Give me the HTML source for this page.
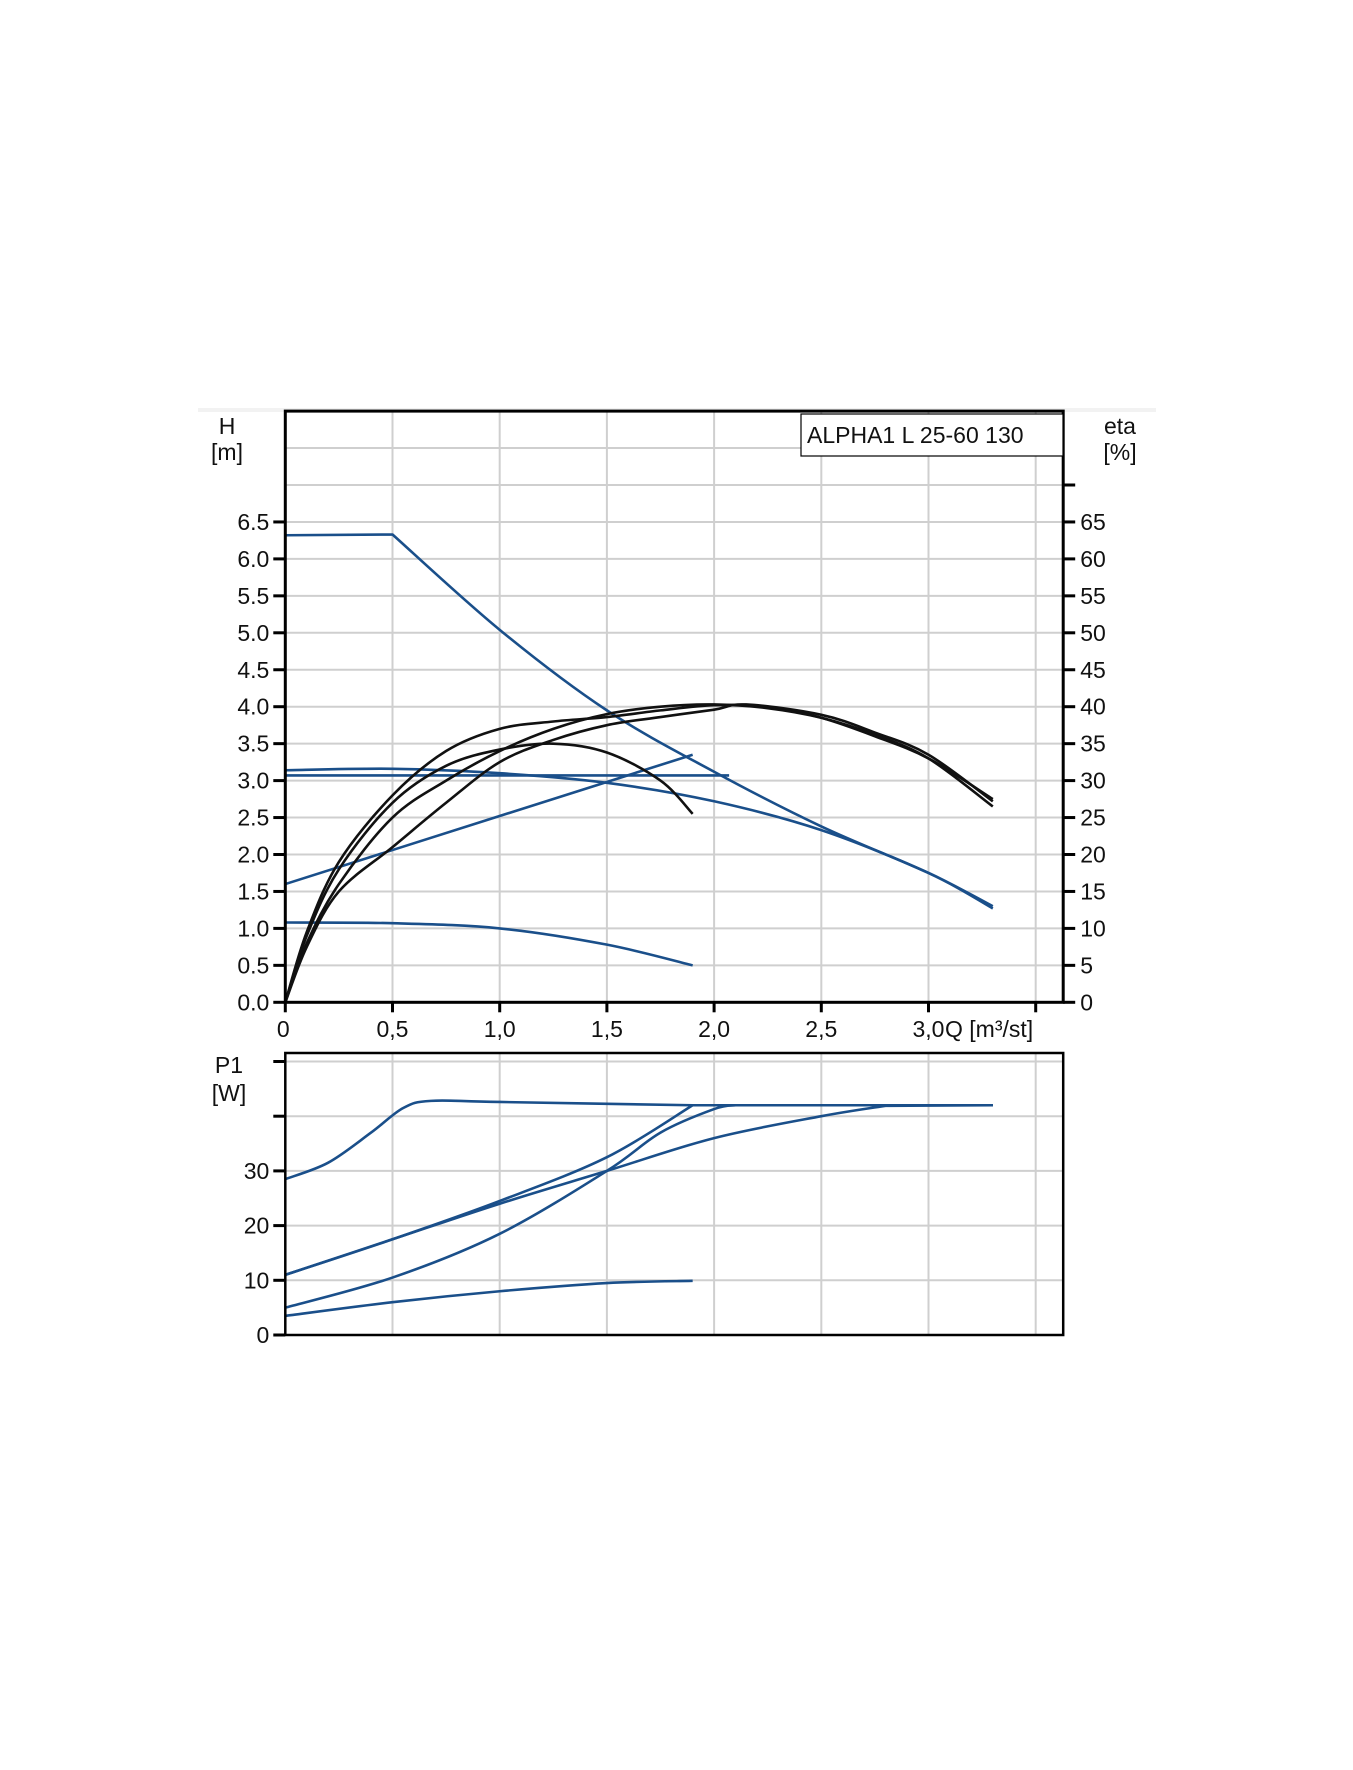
<!DOCTYPE html>
<html><head><meta charset="utf-8"><style>
body{margin:0;background:#fff;width:1353px;height:1770px;overflow:hidden}
svg{position:absolute;left:0;top:0}
text{font-family:"Liberation Sans",sans-serif;font-size:23px;fill:#111}
</style></head><body>
<svg id="c" width="1353" height="1770">
<rect x="198" y="408" width="958" height="4" fill="#f2f2f2"/>
<g id="g"></g>
</svg>
<script>
const qTicks=[0,0.5,1.0,1.5,2.0,2.5,3.0,3.5];
const qLabels=["0","0,5","1,0","1,5","2,0","2,5","3,0",""];
const hTicks=[0,0.5,1,1.5,2,2.5,3,3.5,4,4.5,5,5.5,6,6.5];
const hGrid=[7,7.5];
const etaLabels=["0","5","10","15","20","25","30","35","40","45","50","55","60","65"];
const pTicks=[0,10,20,30];
const pGrid=[40,50];
// head curves [Q, H]
const hMax=[[0,6.32],[0.5,6.33],[1.0,5.04],[1.5,3.95],[2.0,3.12],[2.5,2.38],[3.0,1.75],[3.3,1.3]];
const hConst=[[0,3.07],[2.07,3.07]];
const hCurve=[[0,3.14],[0.5,3.16],[1.0,3.1],[1.5,2.97],[2.0,2.72],[2.5,2.33],[3.0,1.75],[3.3,1.27]];
const hProp=[[0,1.6],[1.9,3.35]];
const hLow=[[0,1.08],[0.5,1.07],[1.0,1.0],[1.5,0.78],[1.9,0.5]];
// efficiency curves [Q, eta %]
const eta1=[[0,0],[0.1,9],[0.25,18],[0.5,27],[0.75,32],[1.0,34.2],[1.25,35],[1.5,33.8],[1.75,30],[1.9,25.5]];
const eta2=[[0,0],[0.1,9.5],[0.25,19],[0.5,28],[0.75,34],[1.0,37],[1.25,38],[1.5,38.6],[1.75,39.5],[2.0,40.2],[2.25,40],[2.5,38.5],[2.75,36],[3.0,33],[3.3,27.5]];
const eta3=[[0,0],[0.1,8],[0.25,16],[0.5,25],[0.75,30],[1.0,34],[1.25,37],[1.5,39],[1.75,40],[2.0,40.3],[2.25,39.8],[2.5,38.5],[2.75,36.2],[3.0,33],[3.3,26.5]];
const eta4=[[0,0],[0.1,7.5],[0.25,15],[0.5,21],[0.75,27],[1.0,32.5],[1.25,35.5],[1.5,37.5],[1.75,38.6],[2.0,39.6],[2.15,40.3],[2.5,38.9],[2.75,36.5],[3.0,33.5],[3.3,27.2]];
// power curves [Q, P1 W]
const p1=[[0,28.5],[0.2,31.5],[0.4,37],[0.55,41.5],[0.68,42.8],[1.0,42.6],[1.9,42],[3.3,42]];
const p2=[[0,11],[0.5,17.5],[1.0,24.5],[1.5,32.5],[1.9,42],[3.3,42]];
const p3=[[0,11],[0.5,17.5],[1.0,24],[1.5,30],[2.0,36],[2.5,40],[2.8,41.9],[3.3,42]];
const p4=[[0,5],[0.5,10.5],[1.0,18.5],[1.5,30],[1.75,37],[2.0,41.3],[2.1,42],[3.3,42]];
const p5=[[0,3.5],[0.5,6],[1.0,8],[1.5,9.5],[1.9,9.9]];

const X=q=>285.3+214.4*q;
const YH=h=>1002.3-73.9*h;
const YE=e=>YH(e/10);
const YP=p=>1335-5.47*p;
const L=285.3,R=1063.2,T=YH(8),B=1002.3,T2=1053,B2=1335;
const NS="http://www.w3.org/2000/svg";
const g=document.getElementById('g');
function mk(t,a,txt){const e=document.createElementNS(NS,t);for(const k in a)e.setAttribute(k,a[k]);if(txt!==undefined)e.textContent=txt;g.appendChild(e);return e;}
function line(x1,y1,x2,y2,s,w){return mk('line',{x1,y1,x2,y2,stroke:s,'stroke-width':w});}
function smooth(pts){
 let d='M'+pts[0][0]+','+pts[0][1];
 for(let i=0;i<pts.length-1;i++){
  const p0=pts[i-1]||pts[i],p1=pts[i],p2=pts[i+1],p3=pts[i+2]||p2;
  const c1=[p1[0]+(p2[0]-p0[0])/6,p1[1]+(p2[1]-p0[1])/6],c2=[p2[0]-(p3[0]-p1[0])/6,p2[1]-(p3[1]-p1[1])/6];
  d+=' C'+c1+' '+c2+' '+p2;
 }return d;}
// straightHead: first segment straight; straightTail: last segment straight
function curve(data,fy,color,name,straightHead,straightTail){
 let pts=data.map(d=>[X(d[0]),fy(d[1])]);
 let d;
 if(straightHead){d='M'+pts[0]+' L'+pts[1]+smooth(pts.slice(1)).replace(/^M[^ C]+/,'');}
 else if(straightTail){const last=pts[pts.length-1];d=smooth(pts.slice(0,-1))+' L'+last;}
 else d=smooth(pts);
 const e=mk('path',{d,fill:'none',stroke:color,'stroke-width':2.6,'stroke-linejoin':'round'});
 
 
}
qTicks.forEach(q=>{if(q>0){const e=line(X(q),T,X(q),B,'#cfcfcf',2);}
 const e2=line(X(q),T2,X(q),B2,'#cfcfcf',2);});
hTicks.concat(hGrid).forEach(h=>{if(h>0){const e=line(L,YH(h),R,YH(h),'#cfcfcf',2);}});
pTicks.concat(pGrid).forEach(p=>{if(p>0){const e=line(L,YP(p),R,YP(p),'#cfcfcf',2);}});
hTicks.forEach((h,i)=>{line(L-12,YH(h),L,YH(h),'#000',3);line(R,YH(h),R+12,YH(h),'#000',3);
 const t=mk('text',{x:L-16,y:YH(h)+8,'text-anchor':'end'},h.toFixed(1));
 const t2=mk('text',{x:R+17,y:YH(h)+8},etaLabels[i]);});
line(R,YH(7),R+12,YH(7),'#000',3);
qTicks.forEach((q,i)=>{line(X(q),B,X(q),B+10,'#000',3);
 const t=mk('text',{x:X(q)+(i==0?-2:0),y:1037,'text-anchor':'middle'},qLabels[i]);});
pTicks.concat(pGrid).forEach(p=>{line(L-12,YP(p),L,YP(p),'#000',3);});
pTicks.forEach(p=>{const t=mk('text',{x:L-16,y:YP(p)+8,'text-anchor':'end'},String(p));});
curve(hMax,YH,'#1a4f8a','head-curve-max',true);
curve(hConst,YH,'#1a4f8a','head-curve-constant');
curve(hCurve,YH,'#1a4f8a','head-curve-3');
curve(hProp,YH,'#1a4f8a','head-curve-proportional');
curve(hLow,YH,'#1a4f8a','head-curve-low');
curve(eta1,YE,'#111','eta-curve-1');
curve(eta2,YE,'#111','eta-curve-2');
curve(eta3,YE,'#111','eta-curve-3');
curve(eta4,YE,'#111','eta-curve-4');
curve(p1,YP,'#1a4f8a','power-curve-1',false,true);
curve(p2,YP,'#1a4f8a','power-curve-2',false,true);
curve(p3,YP,'#1a4f8a','power-curve-3',false,true);
curve(p4,YP,'#1a4f8a','power-curve-4',false,true);
curve(p5,YP,'#1a4f8a','power-curve-5');
let f=mk('rect',{x:L,y:T,width:R-L,height:B-T,fill:'none',stroke:'#000','stroke-width':3});
f=mk('rect',{x:L,y:T2,width:R-L,height:B2-T2,fill:'none',stroke:'#000','stroke-width':2.5});
f=mk('rect',{x:801,y:414,width:262,height:42,fill:'#fff',stroke:'#000','stroke-width':1.2});
f=mk('text',{x:807,y:443},'ALPHA1 L 25-60 130');
[['H',227,434,'y-axis-title'],['[m]',227,460,'y-axis-unit'],['eta',1120,434,'eta-axis-title'],['[%]',1120,460,'eta-axis-unit'],['P1',229,1073,'p-axis-title'],['[W]',229,1101,'p-axis-unit']].forEach(a=>{const t=mk('text',{x:a[1],y:a[2],'text-anchor':'middle'},a[0]);});
f=mk('text',{x:945,y:1037},'Q [m³/st]');
</script>
</body></html>
